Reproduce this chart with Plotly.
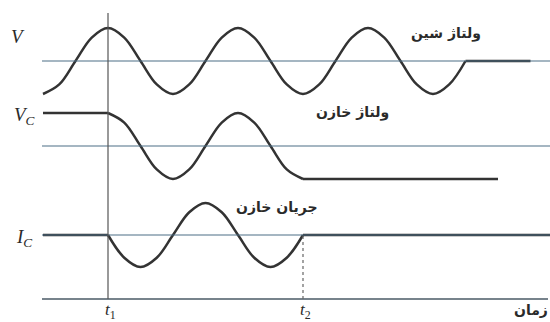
import plotly.graph_objects as go

# Time in quarter periods, t1 = 0, t2 = 6
T1, T2 = 0, 6

# Bus voltage V, sampled every eighth of a period, then held at zero
v_t = [-2, -1.5, -1, -0.5, 0, 0.5, 1, 1.5, 2, 2.5, 3, 3.5, 4, 4.5, 5, 5.5,
       6, 6.5, 7, 7.5, 8, 8.5, 9, 9.5, 10, 10.5, 11]
v_val = [-1, -0.71, 0, 0.71, 1, 0.71, 0, -0.71, -1, -0.71, 0, 0.71, 1, 0.71, 0, -0.71,
         -1, -0.71, 0, 0.71, 1, 0.71, 0, -0.71, -1, -0.71, 0]
v_hold_t = [11, 13]
v_hold_val = [0, 0]

# Capacitor voltage V_C: constant before t1, oscillates, then held at the minimum
vc_pre_t = [-2, 0]
vc_pre_val = [1, 1]
vc_t = [0, 0.5, 1, 1.5, 2, 2.5, 3, 3.5, 4, 4.5, 5, 5.5, 6]
vc_val = [1, 0.71, 0, -0.71, -1, -0.71, 0, 0.71, 1, 0.71, 0, -0.71, -1]
vc_hold_t = [6, 12]
vc_hold_val = [-1, -1]

# Capacitor current I_C: zero before t1, oscillates until t2, then zero
ic_pre_t = [-2, 0]
ic_pre_val = [0, 0]
ic_t = [0, 0.5, 1, 1.5, 2, 2.5, 3, 3.5, 4, 4.5, 5, 5.5, 6]
ic_val = [0, -0.71, -1, -0.71, 0, 0.71, 1, 0.71, 0, -0.71, -1, -0.71, 0]
ic_hold_t = [6, 13.6]
ic_hold_val = [0, 0]

W, H = 550, 322
X0_PX, QUARTER_PX = 108, 32.5          # pixel of t1, pixels per quarter period
x_range = [(0 - X0_PX) / QUARTER_PX, (W - X0_PX) / QUARTER_PX]

# baseline pixel row and amplitude for each trace band
bands = {"y": (61, 33), "y2": (146, 33), "y3": (235, 32)}

CURVE = "#333333"
BASE = "#4d6f86"

fig = go.Figure()

def add(ts, vs, axis, spline):
    fig.add_trace(go.Scatter(
        x=ts, y=vs, yaxis=axis, mode="lines", hoverinfo="skip",
        line=dict(color=CURVE, width=2.5,
                  shape="spline" if spline else "linear", smoothing=1.0),
        showlegend=False))

def paper_x(px):
    return px / W

def paper_y(py):
    return 1 - py / H

# baselines for each band and the time axis
for axis, (base, amp) in bands.items():
    fig.add_shape(type="line", xref="paper", yref="paper",
                  x0=paper_x(42), x1=1, y0=paper_y(base), y1=paper_y(base),
                  line=dict(color=BASE, width=1.2))
fig.add_shape(type="line", xref="paper", yref="paper",
              x0=paper_x(42), x1=paper_x(548), y0=paper_y(299), y1=paper_y(299),
              line=dict(color="#4a5a66", width=1.5))

# t1 and t2 markers
fig.add_shape(type="line", xref="x", yref="paper", x0=T1, x1=T1,
              y0=paper_y(299), y1=paper_y(13), line=dict(color="#555555", width=1.2))
fig.add_shape(type="line", xref="x", yref="paper", x0=T2, x1=T2,
              y0=paper_y(299), y1=paper_y(235),
              line=dict(color="#666666", width=1.2, dash="dot"))

add(v_t, v_val, "y", True)
add(v_hold_t, v_hold_val, "y", False)
add(vc_pre_t, vc_pre_val, "y2", False)
add(vc_t, vc_val, "y2", True)
add(vc_hold_t, vc_hold_val, "y2", False)
add(ic_pre_t, ic_pre_val, "y3", False)
add(ic_t, ic_val, "y3", True)
add(ic_hold_t, ic_hold_val, "y3", False)

layout_axes = {}
for axis, (base, amp) in bands.items():
    name = "yaxis" if axis == "y" else "yaxis" + axis[1:]
    ax = dict(range=[(base - H) / amp, base / amp], visible=False, fixedrange=True)
    if axis != "y":
        ax["overlaying"] = "y"
    layout_axes[name] = ax

serif = dict(family="Liberation Serif", size=19, color="#2a2a2a")
persian = dict(family="DejaVu Sans", size=14, color="#2a2a2a")

labels = [
    ("<i>V</i>", 18, 36, serif),
    ("<i>V</i><sub><i>C</i></sub>", 24, 116, serif),
    ("<i>I</i><sub><i>C</i></sub>", 24, 238, serif),
    ("<i>t</i><sub>1</sub>", 110, 311, dict(serif, size=17)),
    ("<i>t</i><sub>2</sub>", 305, 311, dict(serif, size=17)),
    ("<b>ولتاژ شین</b>", 446, 33, persian),
    ("<b>ولتاژ خازن</b>", 352, 113, persian),
    ("<b>جریان خازن</b>", 277, 207, persian),
    ("<b>زمان</b>", 531, 310, persian),
]
annotations = [dict(text=t, x=paper_x(x), y=paper_y(y), xref="paper", yref="paper",
                    showarrow=False, font=f, xanchor="center", yanchor="middle")
               for t, x, y, f in labels]

fig.update_layout(
    width=W, height=H, margin=dict(l=0, r=0, t=0, b=0),
    paper_bgcolor="white", plot_bgcolor="white",
    xaxis=dict(range=x_range, visible=False, fixedrange=True),
    annotations=annotations,
    **layout_axes,
)

fig.write_html("out.html")
